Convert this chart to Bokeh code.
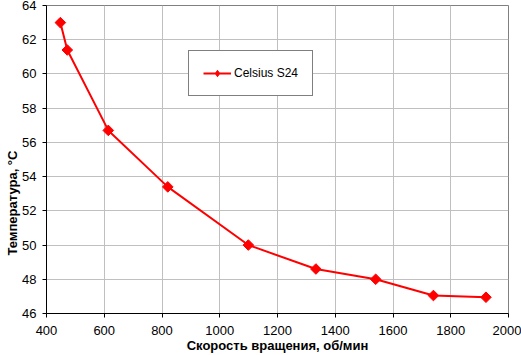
import math
from bokeh.plotting import figure
from bokeh.models import Range1d, FixedTicker, Legend, LegendItem, Title
from bokeh.embed import file_html
from bokeh.resources import INLINE

rpm = [448, 472, 614, 820, 1099, 1333, 1540, 1740, 1922]
temp = [63.0, 61.4, 56.7, 53.4, 50.0, 48.6, 48.0, 47.05, 46.95]
series_name = "Celsius S24"
x_ticks = [400, 600, 800, 1000, 1200, 1400, 1600, 1800, 2000]
y_ticks = [46, 48, 50, 52, 54, 56, 58, 60, 62, 64]
x_title = "Скорость вращения, об/мин"
y_title = "Температура, °C"

FONT = "Liberation Sans"

p = figure(width=521, height=355, output_backend="svg", toolbar_location=None,
           x_range=Range1d(400, 2000), y_range=Range1d(46, 64),
           min_border_left=46, min_border_right=13, min_border_top=5, min_border_bottom=42)
p.background_fill_color = "white"
p.border_fill_color = "white"
p.outline_line_color = "#808080"
p.outline_line_width = 1

for ax, ticks in ((p.xaxis[0], x_ticks), (p.yaxis[0], y_ticks)):
    ax.ticker = FixedTicker(ticks=ticks)
    ax.axis_label_text_font = FONT
    ax.axis_label_text_font_style = "bold"
    ax.axis_label_text_font_size = "13px"
    ax.axis_label_text_color = "black"
    ax.major_label_text_font = FONT
    ax.major_label_text_font_size = "13px"
    ax.major_label_text_color = "black"
    ax.axis_line_color = "black"
    ax.major_tick_line_color = "black"
    ax.major_tick_out = 4
    ax.major_tick_in = 0
    ax.minor_tick_line_color = None

p.xaxis[0].axis_label = x_title
p.xaxis[0].major_label_standoff = 8
p.xaxis[0].axis_label_standoff = 0
p.yaxis[0].major_label_standoff = 6

ytitle = Title(text=y_title, align="left", offset=58, text_font=FONT,
               text_font_style="bold", text_font_size="13px", text_color="black",
               standoff=0)
p.add_layout(ytitle, "left")

p.xgrid.grid_line_color = "#c0c0c0"
p.ygrid.grid_line_color = "#c0c0c0"
p.xgrid.ticker = FixedTicker(ticks=x_ticks)
p.ygrid.ticker = FixedTicker(ticks=y_ticks)

ln = p.line(rpm, temp, line_color="#ff0000", line_width=2)
mk = p.scatter(rpm, temp, marker="square", angle=math.pi / 4, size=7.5,
               fill_color="#ff0000", line_color="#ff0000")
# legend-only glyph (no visible point), drawn as a diamond in the legend box
lg = p.scatter(x=[math.nan], y=[math.nan], marker="diamond", size=11,
               fill_color="#ff0000", line_color="#ff0000")

legend = Legend(items=[LegendItem(label=series_name, renderers=[ln, lg])],
                location=(142, 217))
legend.label_text_font = FONT
legend.label_text_font_size = "12px"
legend.label_text_color = "black"
legend.border_line_color = "black"
legend.border_line_width = 1
legend.background_fill_color = "white"
legend.background_fill_alpha = 1
legend.padding = 14
legend.margin = 0
legend.glyph_width = 28
legend.glyph_height = 16
legend.label_height = 16
legend.label_standoff = 3
p.add_layout(legend, "center")

open("out.html", "w").write(file_html(p, INLINE))
